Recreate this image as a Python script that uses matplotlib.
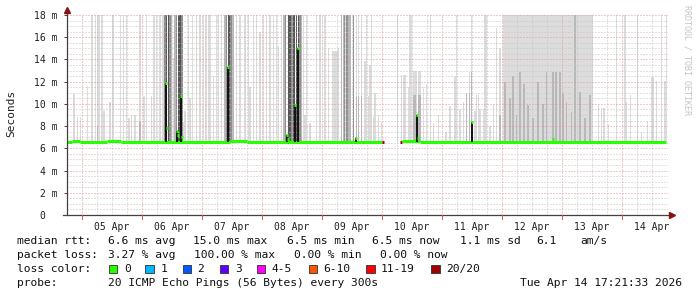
import matplotlib
matplotlib.use("Agg")
import matplotlib.pyplot as plt
from matplotlib.patches import Rectangle

W, H = 697, 297
MONO = "DejaVu Sans Mono"

# x axis is in hours since 04 Apr 00:00 (graph ends Tue Apr 14 17:21)
t_lo, t_hi = 18.0, 258.4
day_noon = [36, 60, 84, 108, 132, 156, 180, 204, 228, 252]
day_labels = ["05 Apr", "06 Apr", "07 Apr", "08 Apr", "09 Apr",
              "10 Apr", "11 Apr", "12 Apr", "13 Apr", "14 Apr"]
midnights = [24, 48, 72, 96, 120, 144, 168, 192, 216, 240]
y_ticks = [0, 2, 4, 6, 8, 10, 12, 14, 16, 18]
y_labels = ["0  ", "2 m", "4 m", "6 m", "8 m", "10 m", "12 m", "14 m", "16 m", "18 m"]

# light smoke (highest pings), top value in ms
light_t = [20.8, 22.1, 23.3, 26.1, 28.0, 29.4, 30.1, 30.8, 32.0, 32.8, 35.2, 36.4,
           39.5, 40.5, 41.9, 42.8, 43.9, 45.2, 47.2, 48.8, 49.9, 51.9, 52.8, 53.9,
           55.2, 56.1, 56.8, 59.9, 60.5, 61.2, 64.5, 65.2, 66.5, 67.2, 68.3, 69.9,
           71.2, 72.5, 73.6, 74.5, 75.2, 76.5, 77.9, 78.5, 79.9, 81.2, 83.9, 84.5,
           85.9, 87.2, 89.2, 90.5, 91.2, 92.5, 93.9, 95.2, 96.5, 97.9, 99.2, 100.5,
           101.9, 102.5, 103.9, 104.8, 112.5, 113.2, 113.9, 115.2, 117.9, 119.2, 121.2, 122.5,
           124.4, 125.2, 126.0, 126.5, 127.9, 128.5, 129.2, 129.9, 130.5, 131.2, 133.9, 134.5,
           135.9, 137.2, 137.9, 138.5, 139.2, 139.9, 140.5, 141.2, 142.5, 143.9,
           150.1, 151.9, 152.5, 153.2, 154.5, 155.2, 155.9, 156.5, 157.2, 157.9, 158.5, 159.2,
           160.5, 161.9, 163.5, 164.5, 166.5, 169.6, 171.2, 173.2, 173.9, 175.2, 176.5, 177.9,
           178.9, 179.9, 181.2, 181.9, 182.5, 183.2, 184.5, 185.2, 185.9, 187.2, 188.5, 189.9,
           191.2, 230.5, 231.9, 232.8, 234.5, 237.9, 241.2, 241.9, 243.5, 246.3, 247.9, 250.1,
           251.9, 252.4, 253.9, 255.9, 257.2, 257.9]
light_v = [10.9, 8.8, 8.8, 11.6, 18, 18, 18, 18, 18, 9.4, 10.2, 18,
           18, 18, 18, 8.7, 9.0, 9.0, 18, 10.7, 18, 10.7, 18, 18,
           18, 18, 18, 18, 14.1, 18, 8.4, 9.4, 18, 10.5, 18, 18,
           18, 18, 18, 18, 18, 12.5, 18, 18, 18, 18, 18, 15.5,
           18, 18, 18, 18, 11.5, 18, 18, 16.5, 18, 18, 18, 18,
           18, 15.2, 18, 18, 18, 9.0, 18, 8.3, 18, 18, 18, 15.0,
           14.8, 14.8, 14.8, 15.0, 18, 18, 18, 18, 18, 18, 18, 18,
           18, 13.9, 18, 10.7, 13.5, 18, 8.8, 11.0, 9.0, 8.4,
           18, 12.6, 12.6, 12.6, 11.5, 18, 18, 13.0, 13.0, 13.0, 13.0, 13.0,
           11.5, 11.8, 18, 8.3, 9.0, 7.5, 9.8, 12.4, 18, 9.5, 10.2, 10.8,
           12.9, 18, 9.4, 10.8, 10.8, 9.5, 9.5, 18, 18, 8.0, 9.9, 16.8,
           15.0, 9.9, 9.6, 9.6, 8.2, 18, 18, 10.2, 10.8, 18, 7.5, 8.5,
           12.4, 12.4, 12.1, 18, 12.1, 18]

# wide light smoke blocks (12/13 Apr)
block_start = [192.3]
block_end = [228.4]
block_top = [18]

# medium smoke
mid_t = [30.1, 47.2, 59.9, 61.2, 81.2, 84.4, 104.8, 105.0, 111.6, 127.9, 128.5, 130.5, 131.2,
         133.9, 134.5, 135.9, 156.5, 157.2, 158.5, 159.2, 177.9, 178.9, 179.9, 191.2,
         193.2, 195.2, 196.4, 197.9, 199.2, 200.8, 202.4, 204.4, 206.4, 208.4, 209.9,
         212.4, 213.6, 215.2, 216.4, 217.9, 219.9, 221.2, 223.2, 225.2, 227.2]
mid_v = [8.0, 8.5, 18, 18, 18, 18, 18, 18, 18, 18, 18, 18, 18,
         10.7, 10.7, 10.7, 10.8, 10.8, 10.8, 10.8, 11.0, 11.0, 12.9, 9.0,
         12.0, 10.5, 12.5, 9.0, 12.9, 11.8, 9.9, 8.7, 12.0, 10.0, 12.9,
         12.9, 12.9, 12.9, 11.0, 10.2, 9.3, 18, 11.1, 8.7, 10.8]

# dark smoke
dark_t = [57.2, 59.2, 61.9, 64.0, 81.9, 83.6, 105.4, 107.6, 108.2, 111.2, 129.0, 130.0, 132.5]
dark_v = [18] * 13
vdark_t = [57.9, 58.5, 62.5, 63.2, 82.5, 83.0, 106.5, 107.2, 108.8, 109.9, 110.5]
vdark_v = [18] * 11

# median rtt excursions (all pings high)
spike_t = [57.5, 63.6, 82.5, 109.2, 110.3, 157.9, 179.9, 61.9, 105.9, 133.6]
spike_v = [11.9, 10.7, 13.3, 9.9, 15.0, 9.0, 8.4, 7.6, 7.2, 6.9]
extra_med_t = [57.9, 62.5, 64.1, 106.4, 158.3, 212.3]
extra_med_v = [7.8, 7.2, 7.0, 6.8, 6.9, 6.8]

# median line segments with loss
med_start = [18.0, 20.0, 23.2, 34.0, 39.6, 83.2, 90.0, 144.0, 151.2, 151.8, 159.2]
med_end = [20.0, 23.2, 34.0, 39.6, 83.2, 90.0, 144.0, 144.8, 151.8, 159.2, 257.6]
med_val = [6.6, 6.7, 6.6, 6.7, 6.6, 6.7, 6.6, 6.6, 6.6, 6.7, 6.6]
med_loss = ["0", "0", "0", "0", "0", "0", "0", "20/20", "20/20", "0", "0"]

loss_names = ["0", "1", "2", "3", "4-5", "6-10", "11-19", "20/20"]
loss_colors = ["#26ff00", "#00b8ff", "#0059ff", "#5e00ff", "#ff00ff",
               "#ff5500", "#ff0000", "#a00000"]
loss_col = dict(zip(loss_names, loss_colors))

base = 6.6

fig = plt.figure(figsize=(W / 100, H / 100), dpi=100)
fig.patch.set_facecolor("white")
ax = fig.add_axes([67 / W, (H - 215) / H, 601 / W, 200 / H])
ax.set_xlim(t_lo, t_hi)
ax.set_ylim(0, 18)


def smoke(ts, vs, color, width=0.45, z=2):
    ax.bar(ts, [v - base for v in vs], width=width, bottom=base, color=color,
           linewidth=0, antialiased=False, zorder=z)


ax.bar(block_start, [v - base for v in block_top],
       width=[e - s for s, e in zip(block_start, block_end)], bottom=base,
       align="edge", color="#dcdcdc", linewidth=0, zorder=1.9)
smoke(light_t, light_v, "#dcdcdc")
smoke(mid_t, mid_v, "#b8b8b8", z=2.1)
smoke(dark_t, dark_v, "#8e8e8e", z=2.2)
smoke(vdark_t, vdark_v, "#565656", z=2.3)

# grid on top of smoke
gray_dots = dict(color="#c4c4c4", lw=0.72, ls=(0, (1, 2)), zorder=3)
red_dots = dict(color="#e89494", lw=0.72, ls=(0, (1, 2)), zorder=3.1)
for k in range(36):
    y = k * 0.5
    if y % 2 and y > 0:
        ax.axhline(y, **gray_dots)
for y in y_ticks[1:]:
    ax.axhline(y, **red_dots)
for h in range(24, 258, 6):
    if h % 24:
        ax.axvline(h, **gray_dots)
for h in midnights:
    ax.axvline(h, **red_dots)

# median
smoke(spike_t, spike_v, "#141414", width=0.8, z=4)
for s, e, v, l in zip(med_start, med_end, med_val, med_loss):
    ax.hlines(v, s, e, color=loss_col[l], lw=2.2, zorder=3.5, capstyle="butt")
ax.hlines(spike_v + extra_med_v,
          [t - 0.45 for t in spike_t + extra_med_t],
          [t + 0.45 for t in spike_t + extra_med_t],
          color=loss_col["0"], lw=2.2, zorder=5, capstyle="butt")

# axes look
for side in ["top", "right", "left", "bottom"]:
    ax.spines[side].set_visible(False)
axis_col = "#404040"
ax.plot([0, 0], [0, 1.02], transform=ax.transAxes, color=axis_col, lw=0.9,
        clip_on=False, zorder=6)
ax.plot([-0.006, 1.004], [0, 0], transform=ax.transAxes, color=axis_col, lw=0.9,
        clip_on=False, zorder=6)
ax.plot([0], [1.025], marker="^", ms=4, color="#8b1010", transform=ax.transAxes,
        clip_on=False, zorder=7)
ax.plot([1.006], [0], marker=">", ms=4, color="#8b1010", transform=ax.transAxes,
        clip_on=False, zorder=7)

ax.set_yticks(y_ticks)
ax.set_yticklabels(y_labels, family=MONO, fontsize=7, color="#202020")
ax.tick_params(axis="y", length=2.5, width=0.7, color=axis_col, pad=4)
ax.set_xticks(day_noon)
ax.set_xticklabels(day_labels, family=MONO, fontsize=7, color="#202020")
ax.tick_params(axis="x", length=0, pad=5)
for h in midnights:
    ax.plot([h, h], [0, -0.35], color="#e05050", lw=0.7, clip_on=False, zorder=6)

fig.text(11 / W, 1 - 113 / H, "Seconds", rotation=90, family=MONO, fontsize=8,
         ha="center", va="center", color="#202020")
fig.text(687 / W, 1 - 60 / H, "RRDTOOL / TOBI OETIKER", rotation=270, family=MONO,
         fontsize=6, ha="center", va="center", color="#c4c4c4")


def ftxt(x, y, s, ha="left"):
    fig.text(x / W, 1 - y / H, s, family=MONO, fontsize=8.1, ha=ha, va="center",
             color="#101010")


ftxt(16.7, 241, "median rtt:")
for x, s in zip([108, 193.5, 286.6, 372.2, 459.9, 536, 580.6],
                ["6.6 ms avg", "15.0 ms max", "6.5 ms min", "6.5 ms now",
                 "1.1 ms sd", "6.1", "am/s"]):
    ftxt(x, 241, s)
ftxt(16.7, 255, "packet loss:")
for x, s in zip([108, 194, 294.2, 380.2],
                ["3.27 % avg", "100.00 % max", "0.00 % min", "0.00 % now"]):
    ftxt(x, 255, s)
ftxt(16.7, 269, "loss color:")
box_x = [108.5, 145.4, 182.9, 219.8, 256.8, 308.5, 366.4, 431]
lab_x = [124, 160.6, 197.6, 235, 272, 323.6, 381, 445.7]
for bx, lx, name, c in zip(box_x, lab_x, loss_names, loss_colors):
    fig.add_artist(Rectangle((bx / W, 1 - 273 / H), 8.5 / W, 8 / H,
                             transform=fig.transFigure, facecolor=c,
                             edgecolor="#303030", lw=0.6))
    ftxt(lx, 269, name)
ftxt(16.7, 283, "probe:")
ftxt(108, 283, "20 ICMP Echo Pings (56 Bytes) every 300s")
ftxt(681.7, 283, "Tue Apr 14 17:21:33 2026", ha="right")

fig.savefig("out.png", dpi=100, facecolor="white")
